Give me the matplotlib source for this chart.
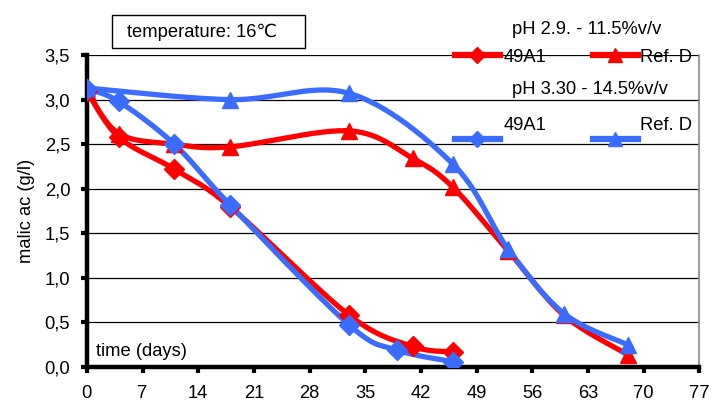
import numpy as np
import matplotlib.pyplot as plt
from matplotlib.lines import Line2D
from matplotlib.patches import Rectangle

plt.rcParams['font.family'] = ['Liberation Sans', 'DejaVu Sans']

# data (days, malic acid g/l)
red_49a1_days = [0, 4, 11, 18, 33, 41, 46]
red_49a1_vals = [3.10, 2.58, 2.22, 1.80, 0.58, 0.23, 0.17]
red_refd_days = [0, 4, 11, 18, 33, 41, 46, 53, 60, 68]
red_refd_vals = [3.10, 2.62, 2.50, 2.47, 2.65, 2.34, 2.02, 1.30, 0.58, 0.14]
blue_49a1_days = [0, 4, 11, 18, 33, 39, 46]
blue_49a1_vals = [3.12, 2.98, 2.50, 1.82, 0.47, 0.19, 0.06]
blue_refd_days = [0, 18, 33, 46, 53, 60, 68]
blue_refd_vals = [3.13, 3.00, 3.07, 2.28, 1.32, 0.60, 0.25]

x_ticks = [0, 7, 14, 21, 28, 35, 42, 49, 56, 63, 70, 77]
y_ticks = [0, 0.5, 1.0, 1.5, 2.0, 2.5, 3.0, 3.5]

RED = '#ff0000'
BLUE = '#3a6cff'
FS = 13.2


def smooth(xs, ys, n=30):
    # catmull-rom through the points, like excel's smoothed line
    p = np.column_stack([xs, ys]).astype(float)
    p = np.vstack([p[0], p, p[-1]])
    out = []
    for i in range(1, len(p) - 2):
        p0, p1, p2, p3 = p[i - 1], p[i], p[i + 1], p[i + 2]
        t = np.linspace(0, 1, n)[:, None]
        seg = 0.5 * ((2 * p1) + (-p0 + p2) * t + (2 * p0 - 5 * p1 + 4 * p2 - p3) * t ** 2
                     + (-p0 + 3 * p1 - 3 * p2 + p3) * t ** 3)
        out.append(seg)
    out = np.vstack(out)
    return out[:, 0], out[:, 1]


fig = plt.figure(figsize=(7.12, 4.08), dpi=100)
ax = fig.add_axes([0.122, 0.1005, 0.860, 0.7645])

series = [
    (red_49a1_days, red_49a1_vals, RED, 'D', 10),
    (red_refd_days, red_refd_vals, RED, '^', 12),
    (blue_49a1_days, blue_49a1_vals, BLUE, 'D', 10),
    (blue_refd_days, blue_refd_vals, BLUE, '^', 12),
]
for d, v, c, m, ms in series:
    sx, sy = smooth(d, v)
    ax.plot(sx, sy, color=c, lw=3.8, solid_capstyle='round', zorder=3)
    ax.plot(d, v, ls='none', marker=m, ms=ms, color=c, zorder=4)

ax.set_xlim(0, 77)
ax.set_ylim(0, 3.5)
ax.set_xticks(x_ticks)
ax.set_yticks(y_ticks)
ax.set_yticklabels([('%.1f' % v).replace('.', ',') for v in y_ticks])
ax.tick_params(labelsize=FS, width=3, length=4, direction='out', color='black')
ax.tick_params(axis='x', pad=9)
ax.tick_params(axis='y', pad=8)
ax.grid(axis='y', color='black', lw=0.9)
ax.set_axisbelow(True)
for s in ['left', 'bottom']:
    ax.spines[s].set_linewidth(3.2)
ax.spines['top'].set_visible(False)
ax.spines['right'].set_color('#888888')
ax.spines['right'].set_linewidth(1.2)

ax.set_ylabel('malic ac (g/l)', fontsize=FS, labelpad=7)
ax.text(1.2, 0.17, 'time (days)', fontsize=FS, va='center', zorder=6)

fig.add_artist(Rectangle((112 / 712, 1 - 48 / 408), 193 / 712, 33 / 408,
                         transform=fig.transFigure, fc='white', ec='black', lw=1))
fig.text(127 / 712, 1 - 32 / 408, 'temperature: 16\u2103', fontsize=FS, va='center')


# legend built by hand, positioned as in the original
def leg_row(y_line, y_text, color):
    for x0, m, ms, label, tx in [(455, 'D', 8, '49A1', 504), (593, '^', 10, 'Ref. D', 640)]:
        fig.add_artist(Line2D([x0 / 712, (x0 + 45) / 712], [1 - y_line / 408] * 2,
                              color=color, lw=4.5))
        fig.add_artist(Line2D([(x0 + 22) / 712], [1 - y_line / 408], marker=m, ms=ms,
                              color=color, ls='none'))
        fig.text(tx / 712, 1 - y_text / 408, label, fontsize=FS, va='center')


fig.text(512 / 712, 1 - 30 / 408, 'pH 2.9. - 11.5%v/v', fontsize=FS, va='center')
leg_row(55, 57, RED)
fig.text(512 / 712, 1 - 90 / 408, 'pH 3.30 - 14.5%v/v', fontsize=FS, va='center')
leg_row(139, 125, BLUE)

fig.savefig('out.png', dpi=100)
